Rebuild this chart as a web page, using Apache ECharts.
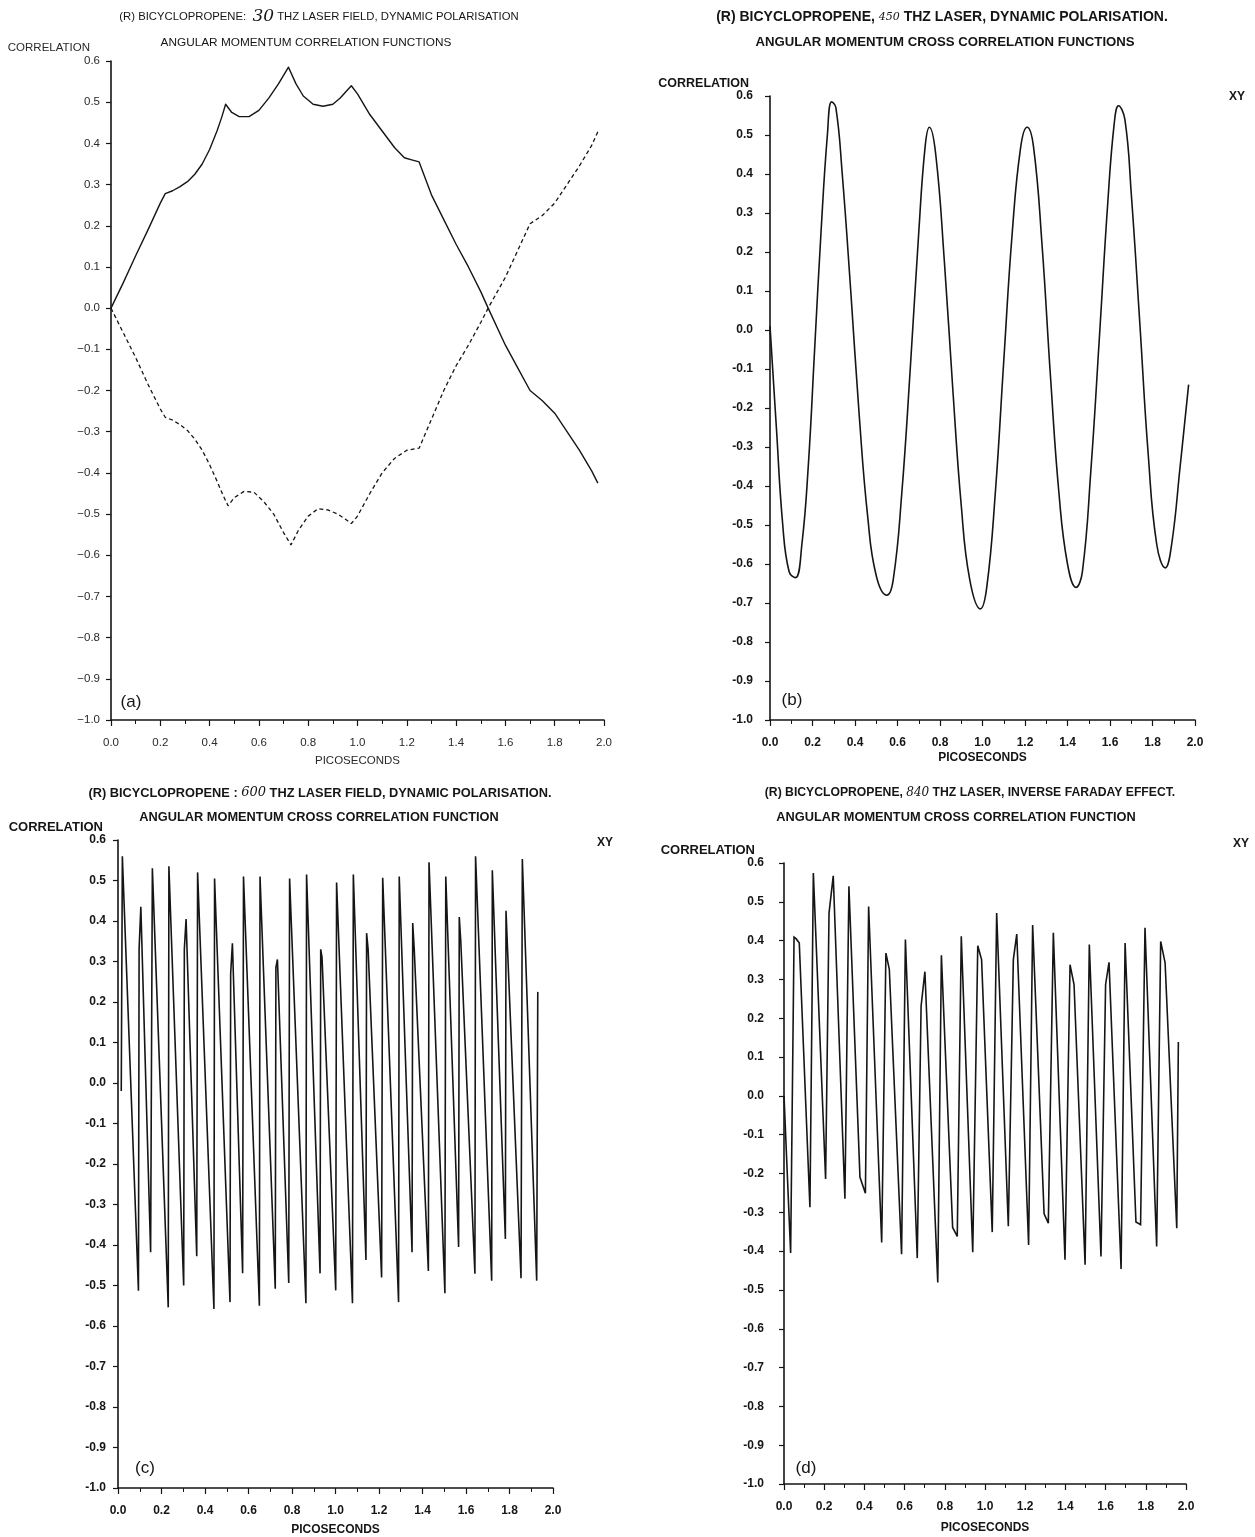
<!DOCTYPE html>
<html><head><meta charset="utf-8">
<script src="https://cdn.jsdelivr.net/npm/echarts@6/dist/echarts.min.js"></script>
<style>html,body{margin:0;padding:0;background:#fff}#c{width:1255px;height:1537px}</style>
</head><body><div id="c"></div><script>
// ---------- tick labels ----------
const xTickLabels = ['0.0','0.2','0.4','0.6','0.8','1.0','1.2','1.4','1.6','1.8','2.0'];
const yTickLabelsThin = ['\u22121.0','\u22120.9','\u22120.8','\u22120.7','\u22120.6','\u22120.5','\u22120.4','\u22120.3','\u22120.2','\u22120.1','0.0','0.1','0.2','0.3','0.4','0.5','0.6'];
const yTickLabelsBold = ['-1.0','-0.9','-0.8','-0.7','-0.6','-0.5','-0.4','-0.3','-0.2','-0.1','0.0','0.1','0.2','0.3','0.4','0.5','0.6'];

// ---------- panel (a): 30 THz ----------
const aSolid = [[0,0],[0.05,0.062],[0.1,0.127],[0.15,0.19],[0.2,0.255],[0.22,0.278],[0.25,0.285],[0.28,0.295],[0.31,0.307],[0.34,0.325],[0.37,0.35],[0.4,0.385],[0.43,0.43],[0.45,0.465],[0.465,0.495],
 [0.49,0.475],[0.52,0.465],[0.56,0.465],[0.6,0.48],[0.64,0.51],[0.68,0.545],[0.72,0.585],
 [0.75,0.545],[0.78,0.515],[0.82,0.495],[0.86,0.49],[0.9,0.495],[0.93,0.51],[0.96,0.53],[0.975,0.54],
 [1.0,0.52],[1.05,0.47],[1.1,0.43],[1.15,0.39],[1.19,0.365],[1.22,0.36],[1.25,0.355],
 [1.3,0.275],[1.35,0.215],[1.4,0.155],[1.45,0.1],[1.5,0.04],[1.53,0.0],[1.6,-0.09],[1.65,-0.145],[1.7,-0.2],
 [1.75,-0.225],[1.8,-0.255],[1.85,-0.3],[1.9,-0.345],[1.95,-0.395],[1.975,-0.425]];
const aDashed = [[0,0],[0.05,-0.06],[0.1,-0.12],[0.15,-0.185],[0.2,-0.245],[0.22,-0.265],[0.25,-0.272],[0.28,-0.283],[0.31,-0.297],[0.34,-0.318],[0.37,-0.345],[0.4,-0.38],[0.43,-0.42],[0.455,-0.455],[0.475,-0.48],
 [0.5,-0.46],[0.54,-0.445],[0.58,-0.447],[0.62,-0.47],[0.66,-0.5],[0.7,-0.545],[0.73,-0.575],
 [0.76,-0.54],[0.8,-0.505],[0.84,-0.487],[0.88,-0.49],[0.92,-0.5],[0.95,-0.512],[0.975,-0.523],
 [1.0,-0.505],[1.05,-0.45],[1.1,-0.4],[1.15,-0.365],[1.2,-0.345],[1.25,-0.34],
 [1.3,-0.27],[1.35,-0.2],[1.4,-0.14],[1.45,-0.09],[1.5,-0.035],[1.53,0.0],[1.6,0.075],[1.65,0.14],[1.7,0.205],
 [1.75,0.225],[1.8,0.255],[1.85,0.3],[1.9,0.345],[1.95,0.395],[1.98,0.435]];

// ---------- panel (b): 450 THz ----------
const bData = [[0.00,0.01],[0.03,-0.25],[0.06,-0.50],[0.09,-0.62],[0.12,-0.635],[0.15,-0.55],[0.18,-0.35],[0.21,-0.05],[0.24,0.25],[0.27,0.50],[0.29,0.585],[0.31,0.57],
 [0.34,0.40],[0.38,0.10],[0.42,-0.22],[0.46,-0.48],[0.50,-0.63],[0.55,-0.68],[0.58,-0.64],[0.62,-0.42],[0.66,-0.10],[0.70,0.25],[0.73,0.47],[0.75,0.52],
 [0.78,0.45],[0.82,0.18],[0.86,-0.15],[0.90,-0.45],[0.94,-0.64],[0.99,-0.715],[1.02,-0.66],[1.06,-0.42],[1.10,-0.08],[1.14,0.25],[1.18,0.47],[1.21,0.52],
 [1.24,0.47],[1.28,0.22],[1.32,-0.12],[1.36,-0.42],[1.40,-0.60],[1.44,-0.66],[1.47,-0.62],[1.51,-0.36],[1.55,-0.02],[1.59,0.33],[1.62,0.53],[1.64,0.575],
 [1.67,0.54],[1.70,0.35],[1.74,0.02],[1.78,-0.32],[1.82,-0.55],[1.86,-0.61],[1.89,-0.55],[1.93,-0.35],[1.97,-0.14]];

// ---------- panel (c): 600 THz ----------
const cData = [[0.015,-0.02],[0.020,0.560],[0.094,-0.513],[0.097,0.33],[0.105,0.435],[0.150,-0.418],[0.158,0.530],[0.231,-0.554],[0.234,0.535],
 [0.302,-0.500],[0.305,0.33],[0.313,0.405],[0.362,-0.428],[0.366,0.520],[0.441,-0.558],[0.444,0.505],[0.515,-0.541],[0.518,0.27],[0.526,0.345],
 [0.573,-0.470],[0.577,0.510],[0.650,-0.550],[0.653,0.510],[0.723,-0.508],[0.726,0.285],[0.733,0.305],[0.785,-0.494],[0.789,0.505],
 [0.864,-0.544],[0.867,0.515],[0.929,-0.470],[0.932,0.330],[0.938,0.31],[1.001,-0.512],[1.005,0.495],[1.078,-0.544],[1.082,0.515],
 [1.140,-0.437],[1.143,0.370],[1.150,0.33],[1.212,-0.480],[1.217,0.507],[1.290,-0.541],[1.293,0.510],[1.352,-0.418],[1.355,0.395],[1.362,0.33],
 [1.427,-0.464],[1.430,0.545],[1.503,-0.519],[1.507,0.510],[1.566,-0.405],[1.569,0.410],[1.576,0.35],[1.641,-0.471],[1.644,0.560],
 [1.718,-0.488],[1.721,0.525],[1.781,-0.385],[1.784,0.425],[1.791,0.33],[1.853,-0.482],[1.859,0.553],[1.925,-0.488],[1.930,0.225]];

// ---------- panel (d): 840 THz ----------
const dData = [[0.000,0.000],[0.033,-0.405],[0.050,0.409],[0.060,0.405],[0.076,0.394],[0.129,-0.287],[0.146,0.574],[0.207,-0.214],[0.224,0.471],[0.245,0.567],
 [0.303,-0.265],[0.323,0.540],[0.378,-0.21],[0.405,-0.251],[0.421,0.488],[0.486,-0.378],[0.507,0.368],[0.524,0.326],[0.585,-0.408],[0.604,0.403],
 [0.663,-0.418],[0.682,0.231],[0.701,0.320],[0.765,-0.481],[0.783,0.362],[0.839,-0.339],[0.862,-0.362],[0.882,0.411],[0.939,-0.403],[0.964,0.387],[0.983,0.351],
 [1.036,-0.351],[1.058,0.471],[1.116,-0.336],[1.141,0.351],[1.158,0.417],[1.217,-0.384],[1.237,0.440],[1.294,-0.304],[1.315,-0.328],[1.340,0.420],
 [1.398,-0.422],[1.423,0.338],[1.443,0.287],[1.498,-0.435],[1.519,0.390],[1.577,-0.414],[1.600,0.287],[1.617,0.344],[1.677,-0.446],[1.697,0.394],
 [1.751,-0.325],[1.774,-0.332],[1.796,0.433],[1.854,-0.388],[1.874,0.398],[1.896,0.343],[1.954,-0.341],[1.962,0.139]];

// ---------- styling ----------
const FONT = "'Liberation Sans', Arial, sans-serif";
const INK = '#151515';
const thin = {fw:'normal', fs:11.5, color:'#2a2a2a', ylabels:yTickLabelsThin};
const bold = {fw:'bold', fs:12, color:INK, ylabels:yTickLabelsBold};

const grids = [
  {left:111, top:61, width:493, height:659},
  {left:770, top:96, width:425, height:624},
  {left:118, top:840, width:435, height:648},
  {left:784, top:863, width:402, height:621}
];

function xAxisFor(gi, st, xMargin, nameGap, nameSize){
  return {type:'value', gridIndex:gi, min:0, max:2, interval:0.2,
    axisLine:{show:true, onZero:false, lineStyle:{color:INK, width:1.6}},
    axisTick:{show:true, length:6, lineStyle:{color:INK, width:1.2}},
    minorTick:{show:true, splitNumber:2, length:4, lineStyle:{color:INK, width:1}},
    splitLine:{show:false}, minorSplitLine:{show:false},
    axisLabel:{margin:xMargin, color:st.color, fontSize:st.fs, fontWeight:st.fw, fontFamily:FONT,
      formatter:v => xTickLabels[Math.round(v/0.2)]},
    name:'PICOSECONDS', nameLocation:'middle', nameGap:nameGap,
    nameTextStyle:{color:st.color, fontSize:nameSize, fontWeight:st.fw, fontFamily:FONT}
  };
}
function yAxisFor(gi, st, yMargin, namePad, nameGap, nameSize){
  return {type:'value', gridIndex:gi, min:-1, max:0.6, interval:0.1,
    axisLine:{show:true, onZero:false, lineStyle:{color:INK, width:1.6}},
    axisTick:{show:true, length:5, lineStyle:{color:INK, width:1.2}},
    splitLine:{show:false},
    axisLabel:{margin:yMargin, color:st.color, fontSize:st.fs, fontWeight:st.fw, fontFamily:FONT,
      formatter:v => st.ylabels[Math.round((v+1)*10)]},
    name:'CORRELATION', nameLocation:'end', nameGap:nameGap,
    nameTextStyle:{color:st.color, fontSize:nameSize, fontWeight:st.fw, fontFamily:FONT,
      align:'right', verticalAlign:'bottom', padding:[0,namePad,0,0]}
  };
}

function lineSeries(gi, data, opts){
  return Object.assign({type:'line', xAxisIndex:gi, yAxisIndex:gi, data:data, symbol:'none',
    showSymbol:false, animation:false, silent:true,
    lineStyle:{color:INK, width:1.5, join:'round'}}, opts||{});
}

function txt(x, y, text, font, extra){
  return {type:'text', x:x, y:y, silent:true,
    style:Object.assign({text:text, fill:INK, font:font, textAlign:'center', textVerticalAlign:'middle'}, extra||{})};
}
const handRich = (size) => ({n:{fontFamily:"'DejaVu Serif', serif", fontStyle:'italic', fontSize:size, fill:INK, fontWeight:'normal'}});

const option = {
  backgroundColor:'#ffffff',
  animation:false,
  grid:grids,
  xAxis:[xAxisFor(0,thin,17,35,11.5), xAxisFor(1,bold,17,32,12), xAxisFor(2,bold,17,36,12), xAxisFor(3,bold,17,38,12)],
  yAxis:[yAxisFor(0,thin,11,21,7,11.5), yAxisFor(1,bold,17,21,4,12.5), yAxisFor(2,bold,12,15,4,13), yAxisFor(3,bold,20,29,5,13)],
  series:[
    lineSeries(0, aSolid, {lineStyle:{color:INK, width:1.4, join:'round'}}),
    lineSeries(0, aDashed, {lineStyle:{color:INK, width:1.3, type:[4,3]}}),
    lineSeries(1, bData, {smooth:0.45, lineStyle:{color:INK, width:1.6}}),
    lineSeries(2, cData, {lineStyle:{color:INK, width:1.6, join:'miter', miterLimit:3}}),
    lineSeries(3, dData, {lineStyle:{color:INK, width:1.6, join:'miter', miterLimit:3}})
  ],
  graphic:{elements:[
    txt(319, 17, '(R) BICYCLOPROPENE:  {n|30} THZ LASER FIELD, DYNAMIC POLARISATION', "normal 11.3px " + FONT, {rich:handRich(17)}),
    txt(306, 43, 'ANGULAR MOMENTUM CORRELATION FUNCTIONS', "normal 11.8px " + FONT),
    txt(942, 17, '(R) BICYCLOPROPENE, {n|450} THZ LASER, DYNAMIC POLARISATION.', "bold 14px " + FONT, {rich:handRich(11)}),
    txt(945, 42, 'ANGULAR MOMENTUM CROSS CORRELATION FUNCTIONS', "bold 13.2px " + FONT),
    txt(320, 793, '(R) BICYCLOPROPENE : {n|600} THZ LASER FIELD, DYNAMIC POLARISATION.', "bold 12.8px " + FONT, {rich:handRich(13)}),
    txt(319, 817, 'ANGULAR MOMENTUM CROSS CORRELATION FUNCTION', "bold 12.8px " + FONT),
    txt(970, 793, '(R) BICYCLOPROPENE, {n|840} THZ LASER, INVERSE FARADAY EFFECT.', "bold 12.2px " + FONT, {rich:handRich(12)}),
    txt(956, 817, 'ANGULAR MOMENTUM CROSS CORRELATION FUNCTION', "bold 12.8px " + FONT),
    txt(1237, 97, 'XY', "bold 12px " + FONT),
    txt(605, 843, 'XY', "bold 12px " + FONT),
    txt(1241, 844, 'XY', "bold 12px " + FONT),
    txt(131, 702, '(a)', "normal 17px " + FONT),
    txt(792, 700, '(b)', "normal 17px " + FONT),
    txt(145, 1468, '(c)', "normal 17px " + FONT),
    txt(806, 1468, '(d)', "normal 17px " + FONT)
  ]}
};

const chart = echarts.init(document.getElementById('c'), null, {renderer:'canvas', width:1255, height:1537});
chart.setOption(option);
</script></body></html>
